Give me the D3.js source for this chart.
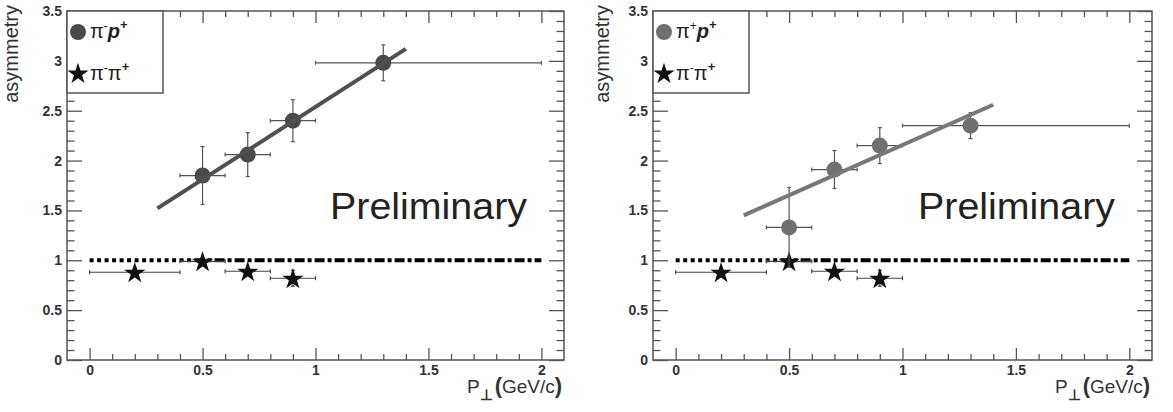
<!DOCTYPE html>
<html>
<head>
<meta charset="utf-8">
<script src="https://cdn.jsdelivr.net/npm/d3@7"></script>
<style>
  body { margin: 0; background: #fff; }
  svg { display: block; font-family: "Liberation Sans", Arial, sans-serif; }
</style>
</head>
<body>
<svg id="chart" width="1173" height="412"></svg>
<script>
// pT bins (GeV/c) and bin edges for the proton-pair points
const protonPt = [0.5, 0.7, 0.9, 1.3];
const protonPtLow = [0.4, 0.6, 0.8, 1.0];
const protonPtHigh = [0.6, 0.8, 1.0, 2.0];

// asymmetry values
const pimProtonAsym = [1.85, 2.06, 2.40, 2.98];
const pimProtonErr = [0.29, 0.22, 0.21, 0.18];
const pipProtonAsym = [1.33, 1.91, 2.15, 2.35];
const pipProtonErr = [0.40, 0.19, 0.18, 0.13];

// pi- pi+ reference points (same in both panels)
const pionPt = [0.2, 0.5, 0.7, 0.9];
const pionPtLow = [0.0, 0.4, 0.6, 0.8];
const pionPtHigh = [0.4, 0.6, 0.8, 1.0];
const pimPipAsym = [0.88, 0.99, 0.89, 0.82];
const pimPipErr = [0.04, 0.03, 0.04, 0.08];

// straight-line fits (endpoints)
const pimProtonFit = [[0.3, 1.52], [1.4, 3.12]];
const pipProtonFit = [[0.3, 1.45], [1.4, 2.56]];

// unity reference
const unityLine = [[0, 1], [2, 1]];

const xTicks = [0, 0.5, 1, 1.5, 2];
const yTicks = [0, 0.5, 1, 1.5, 2, 2.5, 3, 3.5];

const svg = d3.select("#chart");
const axisColor = "#555";

const panels = [
    { left: 67, right: 564, asym: pimProtonAsym, err: pimProtonErr, fit: pimProtonFit,
      dot: "#4a4a4a", line: "#505050", firstSign: "-", yTitleX: 18 },
    { left: 653, right: 1152, asym: pipProtonAsym, err: pipProtonErr, fit: pipProtonFit,
      dot: "#707070", line: "#787878", firstSign: "+", yTitleX: 609 }
];

const frameTop = 11, frameBottom = 360;

const star = d3.symbol().type(d3.symbolStar).size(140);

// dotted start that turns into dash-dot, like the original line style
const unityDash = [].concat(
    d3.range(14).flatMap(() => [4, 3.5]),
    d3.range(30).flatMap(() => [10, 3, 4, 3])
).join(",");

const drawPanel = p => {
    const x = d3.scaleLinear().domain([-0.1, 2.1]).range([p.left, p.right]);
    const y = d3.scaleLinear().domain([0, 3.5]).range([frameBottom, frameTop]);
    const g = svg.append("g");

    const xMinor = d3.range(0, 21).map(i => i / 10).filter(v => !xTicks.includes(v));
    const yMinor = d3.range(0, 36).map(i => i / 10).filter(v => !yTicks.includes(v));

    // frame ticks on all four sides, pointing inward
    const addAxis = (axis, transform, labels) => {
        const a = g.append("g").attr("transform", transform).call(axis);
        a.select(".domain").remove();
        a.selectAll("line").attr("stroke", axisColor).attr("stroke-width", 1.3);
        if (labels) {
            a.selectAll("text").attr("fill", "#333").attr("font-size", 14).attr("font-weight", "bold");
        } else {
            a.selectAll("text").remove();
        }
        return a;
    };
    const fmt = d3.format("~g");
    addAxis(d3.axisBottom(x).tickValues(xTicks).tickSize(-12).tickPadding(5).tickFormat(fmt), `translate(0,${frameBottom})`, true);
    addAxis(d3.axisBottom(x).tickValues(xMinor).tickSize(-6), `translate(0,${frameBottom})`, false);
    addAxis(d3.axisTop(x).tickValues(xTicks).tickSize(-12), `translate(0,${frameTop})`, false);
    addAxis(d3.axisTop(x).tickValues(xMinor).tickSize(-6), `translate(0,${frameTop})`, false);
    addAxis(d3.axisLeft(y).tickValues(yTicks).tickSize(-15).tickPadding(5).tickFormat(fmt), `translate(${p.left},0)`, true);
    addAxis(d3.axisLeft(y).tickValues(yMinor).tickSize(-7.5), `translate(${p.left},0)`, false);
    addAxis(d3.axisRight(y).tickValues(yTicks).tickSize(-15), `translate(${p.right},0)`, false);
    addAxis(d3.axisRight(y).tickValues(yMinor).tickSize(-7.5), `translate(${p.right},0)`, false);

    g.append("rect")
        .attr("x", p.left).attr("y", frameTop)
        .attr("width", p.right - p.left).attr("height", frameBottom - frameTop)
        .attr("fill", "none").attr("stroke", axisColor).attr("stroke-width", 1.5);

    const line = d3.line().x(d => x(d[0])).y(d => y(d[1]));
    g.append("path").attr("d", line(unityLine))
        .attr("stroke", "#000").attr("stroke-width", 4).attr("fill", "none")
        .attr("stroke-dasharray", unityDash);

    // error bars with small end caps
    const errorBars = (xs, lo, hi, ys, ye, color) => {
        const eb = g.append("g").attr("stroke", color).attr("stroke-width", 1.2);
        xs.forEach((xv, i) => {
            eb.append("line").attr("x1", x(lo[i])).attr("x2", x(hi[i])).attr("y1", y(ys[i])).attr("y2", y(ys[i]));
            eb.append("line").attr("x1", x(xv)).attr("x2", x(xv)).attr("y1", y(ys[i] - ye[i])).attr("y2", y(ys[i] + ye[i]));
            [lo[i], hi[i]].forEach(e => eb.append("line")
                .attr("x1", x(e)).attr("x2", x(e)).attr("y1", y(ys[i]) - 2).attr("y2", y(ys[i]) + 2));
            [ys[i] - ye[i], ys[i] + ye[i]].forEach(e => eb.append("line")
                .attr("x1", x(xv) - 2).attr("x2", x(xv) + 2).attr("y1", y(e)).attr("y2", y(e)));
        });
    };

    errorBars(pionPt, pionPtLow, pionPtHigh, pimPipAsym, pimPipErr, "#444");
    g.selectAll(".star").data(pionPt).enter().append("path")
        .attr("class", "star")
        .attr("d", star)
        .attr("transform", (d, i) => `translate(${x(d)},${y(pimPipAsym[i]) + 1})`)
        .attr("fill", "#111");

    errorBars(protonPt, protonPtLow, protonPtHigh, p.asym, p.err, "#555");
    g.selectAll(".dot").data(protonPt).enter().append("circle")
        .attr("class", "dot")
        .attr("cx", d => x(d))
        .attr("cy", (d, i) => y(p.asym[i]))
        .attr("r", 8)
        .attr("fill", p.dot);

    g.append("path").attr("d", line(p.fit))
        .attr("stroke", p.line).attr("stroke-width", 4).attr("fill", "none");

    g.append("text")
        .attr("x", p.right - 37).attr("y", 219)
        .attr("text-anchor", "end")
        .attr("font-size", 36).attr("fill", "#222")
        .attr("textLength", 197).attr("lengthAdjust", "spacingAndGlyphs")
        .text("Preliminary");

    // axis titles
    g.append("text")
        .attr("transform", `translate(${p.yTitleX},5) rotate(-90)`)
        .attr("text-anchor", "end")
        .attr("font-size", 20).attr("fill", "#333")
        .text("asymmetry");

    const xt = g.append("text")
        .attr("x", p.right - 97).attr("y", 393)
        .attr("font-size", 19).attr("fill", "#333");
    xt.append("tspan").text("P");
    xt.append("tspan").attr("dy", 7).attr("font-size", 15).attr("font-weight", "bold").text("⊥");
    xt.append("tspan").attr("dy", -7).attr("dx", 2).attr("font-weight", "bold").attr("font-size", 22).text("(");
    xt.append("tspan").text("GeV/c");
    xt.append("tspan").attr("font-weight", "bold").attr("font-size", 22).text(")");

    // legend
    const lg = g.append("g");
    lg.append("rect")
        .attr("x", p.left).attr("y", frameTop)
        .attr("width", 96).attr("height", 82)
        .attr("fill", "#fff").attr("stroke", axisColor).attr("stroke-width", 1.5);
    lg.append("circle").attr("cx", p.left + 11).attr("cy", 32).attr("r", 8).attr("fill", p.dot);
    const t1 = lg.append("text").attr("x", p.left + 23).attr("y", 38).attr("font-size", 20).attr("fill", "#222");
    t1.append("tspan").text("π");
    t1.append("tspan").attr("dy", -8).attr("font-size", 12).text(p.firstSign);
    t1.append("tspan").attr("dy", 8).attr("font-weight", "bold").attr("font-style", "italic").text("p");
    t1.append("tspan").attr("dy", -9).attr("font-size", 13).attr("font-weight", "bold").text("+");

    lg.append("path").attr("d", star).attr("transform", `translate(${p.left + 11},74)`).attr("fill", "#111");
    const t2 = lg.append("text").attr("x", p.left + 23).attr("y", 80).attr("font-size", 20).attr("fill", "#222");
    t2.append("tspan").text("π");
    t2.append("tspan").attr("dy", -8).attr("font-size", 12).text("-");
    t2.append("tspan").attr("dy", 8).text("π");
    t2.append("tspan").attr("dy", -9).attr("font-size", 13).attr("font-weight", "bold").text("+");
};

panels.forEach(drawPanel);
</script>
</body>
</html>
